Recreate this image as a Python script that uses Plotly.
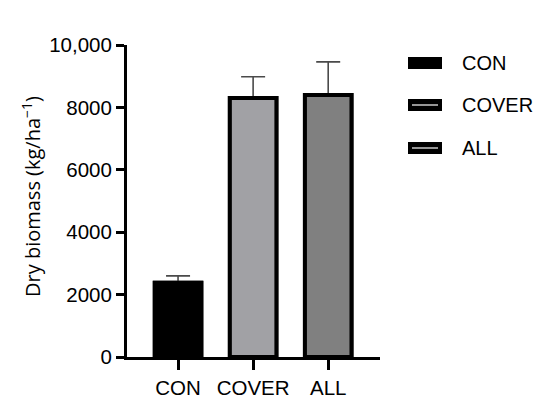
import plotly.graph_objects as go

# data
categories = ['CON', 'COVER', 'ALL']
biomass = [2380, 8300, 8400]
biomass_sd = [220, 680, 1060]
bar_colors = ['#000000', '#a1a1a5', '#808080']
y_tickvals = [0, 2000, 4000, 6000, 8000, 10000]
y_ticktext = ['0', '2000', '4000', '6000', '8000', '10,000']

W, H = 550, 412
ML, MR, MT, MB = 127, 170, 45, 55
PW, PH = W - ML - MR, H - MT - MB


def px(x):
    return (x - ML) / PW


def py(y):
    return 1 - (y - MT) / PH


FONT = 'Liberation Sans, Arial, sans-serif'

fig = go.Figure()
# bars with upper error bars only
fig.add_trace(go.Bar(
    x=categories, y=biomass, width=0.62,
    marker=dict(color=bar_colors, line=dict(color='black', width=4)),
    error_y=dict(type='data', array=biomass_sd, arrayminus=[0] * len(biomass_sd),
                 color='#4a4a4a', thickness=1.6, width=12),
    showlegend=False, hoverinfo='skip'))
# same bars on top to hide the lower caps
fig.add_trace(go.Bar(
    x=categories, y=biomass, width=0.62,
    marker=dict(color=bar_colors, line=dict(color='black', width=4)),
    showlegend=False))

# hand drawn legend
shapes = []
annotations = []
legend_y = [63, 105, 148]
for i, cat in enumerate(categories):
    yc = legend_y[i]
    shapes.append(dict(type='rect', xref='paper', yref='paper',
                       x0=px(408), x1=px(442), y0=py(yc + 6), y1=py(yc - 6),
                       fillcolor='black', line=dict(width=0)))
    if i > 0:
        shapes.append(dict(type='line', xref='paper', yref='paper',
                           x0=px(412), x1=px(438), y0=py(yc), y1=py(yc),
                           line=dict(color='#c8c8c8', width=1.5)))
    annotations.append(dict(text=cat, xref='paper', yref='paper',
                            x=px(460), y=py(yc), xanchor='left', yanchor='middle',
                            showarrow=False, font=dict(size=20, color='black', family=FONT)))

annotations.append(dict(text='Dry biomass (kg/ha<sup>\u22121</sup>)', xref='paper', yref='paper',
                        x=px(31), y=py(197), textangle=-90, xanchor='center', yanchor='middle',
                        showarrow=False, font=dict(size=20, color='black', family='Open Sans, sans-serif')))

fig.update_layout(
    width=W, height=H,
    margin=dict(l=ML, r=MR, t=MT, b=MB),
    plot_bgcolor='white', paper_bgcolor='white',
    barmode='overlay',
    font=dict(family=FONT, size=20, color='black'),
    shapes=shapes, annotations=annotations,
    xaxis=dict(range=[-0.68, 2.69], showline=True, linecolor='black', linewidth=3,
               ticks='outside', ticklen=10, tickwidth=3, tickcolor='black',
               showgrid=False, zeroline=False, tickfont=dict(size=20.5)),
    yaxis=dict(range=[0, 10000], showline=True, linecolor='black', linewidth=3,
               ticks='outside', ticklen=8, tickwidth=3, tickcolor='black',
               tickvals=y_tickvals, ticktext=y_ticktext,
               showgrid=False, zeroline=False, tickfont=dict(size=20.5)),
)

fig.write_html('out.html', config={'displayModeBar': False},
               post_script="document.body.style.margin='0px';")
